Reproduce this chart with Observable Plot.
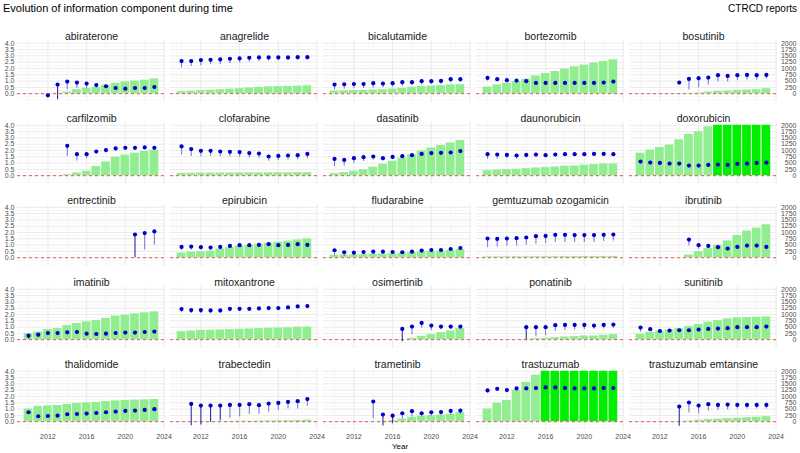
<!DOCTYPE html>
<html>
<head>
<meta charset="utf-8">
<script src="https://cdn.jsdelivr.net/npm/d3@7"></script>
<script src="https://cdn.jsdelivr.net/npm/@observablehq/plot@0.6"></script>
<style>
  html, body { margin: 0; padding: 0; background: #fff; }
  #chart { width: 800px; height: 453px; }
</style>
</head>
<body>
<div id="chart"></div>
<script>
// ---------- data ----------
const drugs = [
  "abiraterone", "anagrelide", "bicalutamide", "bortezomib", "bosutinib",
  "carfilzomib", "clofarabine", "dasatinib", "daunorubicin", "doxorubicin",
  "entrectinib", "epirubicin", "fludarabine", "gemtuzumab ozogamicin", "ibrutinib",
  "imatinib", "mitoxantrone", "osimertinib", "ponatinib", "sunitinib",
  "thalidomide", "trabectedin", "trametinib", "trastuzumab", "trastuzumab emtansine"
];
const startYear = [
  2012, 2010, 2010, 2010, 2014,
  2014, 2010, 2010, 2010, 2010,
  2021, 2010, 2010, 2010, 2015,
  2010, 2010, 2017, 2014, 2010,
  2010, 2011, 2014, 2010, 2014
];
// information component (IC), one value per year from startYear to 2023
const ic = [
  [-0.13, 0.72, 0.96, 0.88, 0.80, 0.69, 0.59, 0.45, 0.40, 0.45, 0.45, 0.53],
  [2.59, 2.59, 2.67, 2.69, 2.72, 2.77, 2.80, 2.85, 2.88, 2.88, 2.88, 2.88, 2.90, 2.90],
  [0.72, 0.75, 0.77, 0.77, 0.83, 0.80, 0.83, 0.91, 0.91, 0.99, 0.99, 1.01, 1.15, 1.15],
  [1.25, 1.15, 1.07, 1.04, 0.99, 0.85, 0.85, 0.85, 0.85, 0.85, 0.85, 0.85, 0.88, 0.96],
  [0.88, 1.17, 1.23, 1.28, 1.47, 1.41, 1.47, 1.49, 1.47, 1.49],
  [2.37, 1.71, 1.71, 1.92, 2.03, 2.16, 2.21, 2.21, 2.24, 2.21],
  [2.32, 2.11, 1.97, 1.97, 1.92, 1.89, 1.87, 1.79, 1.76, 1.52, 1.57, 1.60, 1.63, 1.73],
  [1.33, 1.25, 1.39, 1.47, 1.52, 1.39, 1.49, 1.55, 1.63, 1.73, 1.79, 1.81, 1.84, 1.95],
  [1.71, 1.68, 1.65, 1.60, 1.65, 1.68, 1.63, 1.68, 1.71, 1.71, 1.71, 1.73, 1.73, 1.71],
  [1.12, 1.04, 1.01, 0.96, 0.96, 0.80, 0.80, 0.85, 0.88, 0.85, 0.93, 0.96, 1.01, 1.04],
  [1.84, 1.95, 2.08],
  [0.85, 0.88, 0.83, 0.80, 0.85, 0.93, 0.99, 0.99, 1.01, 1.07, 0.99, 1.01, 1.07, 1.01],
  [0.59, 0.43, 0.40, 0.45, 0.48, 0.48, 0.45, 0.43, 0.48, 0.56, 0.61, 0.61, 0.69, 0.77],
  [1.52, 1.49, 1.52, 1.55, 1.60, 1.71, 1.73, 1.81, 1.81, 1.79, 1.79, 1.79, 1.81, 1.84],
  [1.44, 0.99, 0.93, 0.83, 0.72, 0.85, 0.96, 0.96, 0.85],
  [0.32, 0.40, 0.53, 0.53, 0.59, 0.61, 0.48, 0.45, 0.48, 0.53, 0.56, 0.56, 0.61, 0.64],
  [2.43, 2.35, 2.35, 2.32, 2.32, 2.45, 2.45, 2.45, 2.48, 2.51, 2.51, 2.56, 2.64, 2.67],
  [0.85, 1.04, 1.33, 1.12, 1.04, 1.04, 1.04],
  [0.99, 0.99, 0.99, 1.15, 1.17, 1.17, 1.17, 1.12, 1.17, 1.20],
  [0.96, 0.83, 0.69, 0.72, 0.75, 0.75, 0.80, 0.85, 0.88, 0.91, 0.99, 0.99, 0.99, 1.04],
  [0.75, 0.43, 0.45, 0.48, 0.59, 0.61, 0.64, 0.69, 0.75, 0.80, 0.85, 0.88, 0.93, 0.99],
  [1.41, 1.28, 1.28, 1.28, 1.33, 1.33, 1.39, 1.31, 1.44, 1.49, 1.57, 1.63, 1.79],
  [1.60, 0.56, 0.48, 0.67, 0.83, 0.67, 0.75, 0.77, 0.85, 0.88],
  [2.48, 2.61, 2.51, 2.64, 2.64, 2.67, 2.72, 2.72, 2.67, 2.64, 2.64, 2.64, 2.67, 2.67],
  [1.20, 1.52, 1.28, 1.39, 1.33, 1.36, 1.33, 1.33, 1.33, 1.33]
];
// lower credibility bound of the IC
const icLow = [
  [-0.25, -0.48, 0.32, 0.40, 0.40, 0.42, 0.42, 0.33, 0.32, 0.37, 0.38, 0.45],
  [2.05, 2.15, 2.22, 2.30, 2.32, 2.40, 2.45, 2.52, 2.56, 2.60, 2.61, 2.62, 2.65, 2.66],
  [0.30, 0.35, 0.40, 0.42, 0.45, 0.48, 0.52, 0.58, 0.62, 0.68, 0.72, 0.75, 0.85, 0.88],
  [1.00, 0.95, 0.92, 0.90, 0.88, 0.77, 0.78, 0.79, 0.79, 0.80, 0.80, 0.80, 0.83, 0.91],
  [0.78, 0.29, 0.48, 0.69, 0.93, 0.93, 1.07, 1.09, 1.07, 1.15],
  [1.52, 1.17, 1.33, 1.70, 1.84, 1.97, 2.05, 2.10, 2.15, 2.13],
  [1.65, 1.52, 1.50, 1.55, 1.50, 1.48, 1.47, 1.40, 1.38, 1.15, 1.20, 1.24, 1.27, 1.37],
  [0.72, 0.77, 0.99, 1.12, 1.25, 1.17, 1.35, 1.43, 1.53, 1.63, 1.70, 1.73, 1.76, 1.87],
  [1.30, 1.33, 1.35, 1.30, 1.40, 1.45, 1.42, 1.48, 1.53, 1.55, 1.57, 1.60, 1.60, 1.60],
  [1.05, 0.98, 0.95, 0.90, 0.90, 0.74, 0.75, 0.80, 0.83, 0.80, 0.88, 0.91, 0.96, 0.99],
  [-0.01, 0.61, 1.01],
  [0.55, 0.60, 0.60, 0.60, 0.62, 0.72, 0.80, 0.82, 0.85, 0.90, 0.87, 0.90, 0.95, 0.92],
  [0.15, 0.10, 0.15, 0.20, 0.28, 0.30, 0.30, 0.30, 0.35, 0.40, 0.45, 0.48, 0.55, 0.62],
  [0.80, 0.85, 0.93, 0.93, 0.99, 1.07, 1.12, 1.20, 1.20, 1.20, 1.20, 1.20, 1.28, 1.33],
  [0.93, 0.67, 0.72, 0.67, 0.64, 0.78, 0.89, 0.90, 0.80],
  [0.05, 0.13, 0.27, 0.30, 0.32, 0.40, 0.38, 0.37, 0.40, 0.45, 0.49, 0.50, 0.55, 0.58],
  [2.13, 2.07, 2.08, 2.06, 2.07, 2.22, 2.23, 2.25, 2.29, 2.33, 2.34, 2.40, 2.48, 2.52],
  [-0.16, 0.40, 0.91, 0.72, 0.80, 0.80, 0.85],
  [-0.02, 0.24, 0.32, 0.67, 0.72, 0.77, 0.80, 0.80, 0.85, 0.91],
  [0.59, 0.64, 0.60, 0.65, 0.69, 0.70, 0.75, 0.80, 0.83, 0.87, 0.94, 0.95, 0.95, 1.00],
  [0.68, 0.37, 0.40, 0.43, 0.54, 0.57, 0.60, 0.65, 0.71, 0.76, 0.81, 0.84, 0.89, 0.95],
  [-0.32, -0.27, -0.05, 0.08, 0.27, 0.40, 0.59, 0.59, 0.75, 0.88, 1.01, 1.01, 1.20],
  [0.24, -0.35, -0.16, 0.19, 0.37, 0.37, 0.43, 0.48, 0.51, 0.59],
  [2.27, 2.52, 2.43, 2.57, 2.58, 2.62, 2.67, 2.68, 2.63, 2.60, 2.60, 2.61, 2.64, 2.64],
  [-0.37, 0.69, 0.61, 0.83, 0.88, 0.93, 1.01, 1.01, 1.01, 1.01]
];
// cumulative CTRCD reports
const reports = [
  [3, 15, 65, 160, 215, 250, 335, 415, 465, 500, 535, 585],
  [80, 100, 120, 140, 160, 180, 200, 225, 250, 270, 280, 290, 300, 310],
  [105, 115, 125, 135, 145, 160, 185, 210, 255, 290, 300, 320, 350, 360],
  [265, 345, 415, 480, 575, 705, 800, 880, 975, 1065, 1135, 1215, 1280, 1345],
  [5, 15, 25, 65, 95, 105, 135, 145, 160, 200],
  [40, 105, 175, 360, 545, 735, 815, 895, 960, 1015],
  [90, 95, 100, 100, 105, 105, 110, 110, 110, 115, 115, 115, 120, 120],
  [80, 120, 175, 240, 335, 455, 575, 695, 825, 975, 1095, 1200, 1295, 1400],
  [200, 225, 240, 255, 280, 305, 320, 345, 375, 385, 415, 440, 465, 465],
  [895, 1015, 1120, 1215, 1425, 1640, 1745, 1935, 2120, 2290, 2460, 2630, 2800, 2970],
  [2, 4, 6],
  [185, 225, 240, 265, 345, 400, 455, 480, 535, 575, 615, 655, 705, 745],
  [95, 105, 110, 120, 130, 145, 160, 175, 200, 225, 240, 265, 295, 320],
  [30, 32, 34, 35, 36, 37, 38, 40, 42, 43, 45, 46, 48, 50],
  [105, 240, 360, 495, 665, 880, 1055, 1175, 1305],
  [240, 305, 400, 440, 560, 640, 705, 760, 840, 935, 975, 1025, 1065, 1105],
  [320, 345, 370, 375, 385, 400, 415, 425, 440, 455, 465, 470, 495, 500],
  [3, 55, 135, 200, 280, 345, 440],
  [15, 40, 55, 80, 105, 120, 145, 145, 175, 200],
  [215, 295, 335, 385, 440, 520, 600, 695, 760, 825, 865, 880, 895, 905],
  [505, 600, 625, 640, 680, 720, 745, 760, 800, 825, 840, 855, 865, 880],
  [3, 6, 9, 12, 15, 18, 22, 26, 30, 35, 40, 48, 60],
  [2, 15, 40, 95, 175, 215, 240, 265, 295, 360],
  [505, 735, 840, 1240, 1560, 1840, 2100, 2350, 2600, 2850, 3100, 3350, 3600, 3850],
  [5, 25, 55, 80, 95, 120, 135, 160, 175, 200]
];
const yTickLabels = [0, 0.5, 1, 1.5, 2, 2.5, 3, 3.5, 4];
const reportTickLabels = [0, 250, 500, 750, 1000, 1250, 1500, 1750, 2000];
const xTickLabels = [2012, 2016, 2020, 2024];
const reportCap = 2000;

// ---------- build tables ----------
const NCOL = 5;
const rows = [];
drugs.forEach((name, i) => {
  ic[i].forEach((v, j) => {
    rows.push({name, col: i % NCOL, row: Math.floor(i / NCOL), year: startYear[i] + j,
               ic: v, lo: icLow[i][j], n: reports[i][j]});
  });
});
const panels = drugs.map((name, i) => ({name, col: i % NCOL, row: Math.floor(i / NCOL)}));
const ratio = reportCap / 4; // reports per IC unit on the secondary axis

const yMinor = [-0.5, -0.25, 0.25, 0.75, 1.25, 1.75, 2.25, 2.75, 3.25, 3.75];
const xMinor = [2010, 2014, 2018, 2022];

const M = {top: 39.5, right: 23, bottom: 24, left: 17};

const chart = Plot.plot({
  width: 800,
  height: 453,
  marginTop: M.top, marginRight: M.right, marginBottom: M.bottom, marginLeft: M.left,
  facet: {marginTop: M.top, marginRight: M.right, marginBottom: M.bottom, marginLeft: M.left},
  style: {fontFamily: "'Liberation Sans', Arial, sans-serif", fontSize: "7px", background: "#fff"},
  fx: {domain: [0, 1, 2, 3, 4], paddingInner: 0.033, paddingOuter: 0, axis: null},
  fy: {domain: [0, 1, 2, 3, 4], paddingInner: 0.25, paddingOuter: 0, axis: null},
  x: {domain: [2008.86, 2024.15]},
  y: {domain: [-0.70, 4.22]},
  color: {type: "identity"},
  marks: [
    Plot.gridY({ticks: yMinor, stroke: "#f2f2f2", strokeOpacity: 1, strokeWidth: 0.6}),
    Plot.gridX({ticks: xMinor, stroke: "#f2f2f2", strokeOpacity: 1, strokeWidth: 0.6}),
    Plot.gridY({ticks: yTickLabels, stroke: "#e8e8e8", strokeOpacity: 1, strokeWidth: 0.9}),
    Plot.gridX({ticks: xTickLabels, stroke: "#e8e8e8", strokeOpacity: 1, strokeWidth: 0.9}),
    Plot.rectY(rows.filter(d => d.n > 0), {
      fx: "col", fy: "row",
      x1: d => d.year - 0.45, x2: d => d.year + 0.45,
      y1: 0, y2: d => Math.min(d.n, reportCap) / ratio,
      fill: d => d.n > reportCap ? "#00ef00" : "#90ee90"
    }),
    Plot.ruleY([0], {stroke: "#e05a55", strokeWidth: 1, strokeDasharray: "3,3"}),
    Plot.ruleX(rows, {
      fx: "col", fy: "row", x: "year", y1: "lo", y2: "ic",
      stroke: d => d.lo < 0.1 ? "#2e2e9c" : "#7f7fda", strokeWidth: 1.1
    }),
    Plot.dot(rows, {fx: "col", fy: "row", x: "year", y: "ic", r: 2.1, fill: "#0000c8", stroke: "none"}),
    Plot.text(panels, {fx: "col", fy: "row", text: "name", frameAnchor: "top", dy: -8,
                       fontSize: 10.5, fill: "#1a1a1a"}),
    Plot.axisY({anchor: "left", ticks: yTickLabels, tickFormat: d => d.toFixed(1), tickSize: 0,
                tickPadding: 3, label: null, color: "#4d4d4d", fontSize: 7}),
    Plot.axisY({anchor: "right", ticks: yTickLabels, tickFormat: d => String(d * ratio), tickSize: 0,
                tickPadding: 0, textAnchor: "end", dx: 19, label: null, color: "#4d4d4d", fontSize: 7}),
    Plot.axisX({anchor: "bottom", ticks: xTickLabels, tickFormat: d => String(d), tickSize: 0,
                tickPadding: 4, label: null, color: "#4d4d4d", fontSize: 7})
  ]
});

document.getElementById("chart").appendChild(chart);

// titles
const svg = d3.select(chart);
svg.append("text").attr("x", 3).attr("y", 12).attr("text-anchor", "start")
  .attr("font-size", 11).attr("fill", "#000").text("Evolution of information component during time");
svg.append("text").attr("x", 797).attr("y", 12).attr("text-anchor", "end")
  .attr("font-size", 10).attr("fill", "#000").text("CTRCD reports");
svg.append("text").attr("x", 400).attr("y", 448.5).attr("text-anchor", "middle")
  .attr("font-size", 8).attr("fill", "#000").text("Year");
</script>
</body>
</html>
